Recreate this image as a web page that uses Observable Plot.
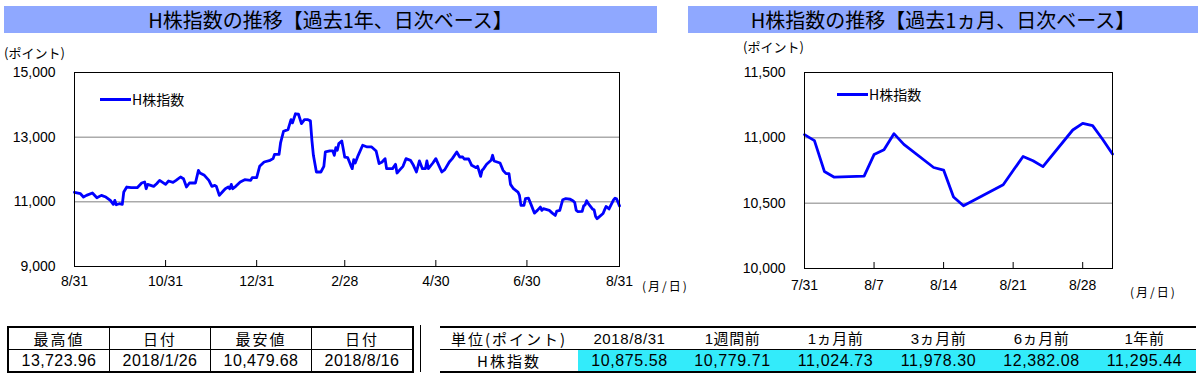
<!DOCTYPE html>
<html><head><meta charset="utf-8">
<script src="https://cdn.jsdelivr.net/npm/d3@7"></script>
<script src="https://cdn.jsdelivr.net/npm/@observablehq/plot@0.6"></script>
<style>
body{margin:0;background:#fff;font-family:"Noto Sans CJK JP",sans-serif;color:#000;}
#root{position:relative;width:1203px;height:378px;overflow:hidden;}
.title{position:absolute;background:#8FA8FF;text-align:center;font-size:20px;line-height:27px;height:27px;white-space:nowrap;}
.lab{position:absolute;font-size:13px;line-height:14px;white-space:nowrap;}
.plot{position:absolute;}
.leg{position:absolute;font-size:14px;line-height:16px;white-space:nowrap;display:flex;align-items:center;}
.leg span.l{display:inline-block;width:31px;height:3px;background:#0000FF;margin-right:1px;}
table{border-collapse:collapse;position:absolute;}
#t1{left:7px;top:326px;border:2px solid #000;}
#t1 td{border:1px solid #000;width:100px;height:21px;text-align:center;padding:0;font-size:15px;line-height:21px;letter-spacing:2px;}
#t1 td.n{font-family:"Liberation Sans",Arial,sans-serif;font-size:16px;letter-spacing:0.4px;}
#t2{left:440px;top:326px;border-top:2px solid #000;border-bottom:2px solid #000;}
#t2 td{height:21px;padding:0;text-align:center;font-size:15px;line-height:21px;width:103px;}
#t2 tr.h td{border-bottom:1px solid #000;}
#t2 td.first{width:138px;letter-spacing:2px;}
#t2 td.c{background:#33EBFA;font-family:"Liberation Sans",Arial,sans-serif;font-size:16px;letter-spacing:0.6px;}
#t2 td.n{font-family:"Liberation Sans","Noto Sans CJK JP",sans-serif;font-size:15px;letter-spacing:0.6px;}
#vl{position:absolute;left:420px;top:325px;width:1px;height:47px;background:#000;}
</style></head>
<body><div id="root"></div>
<script>
// ---- data ----
const yearDates = ["2017-08-31","2017-09-04","2017-09-06","2017-09-08","2017-09-12","2017-09-15","2017-09-18","2017-09-21","2017-09-24","2017-09-26","2017-09-27","2017-09-28","2017-09-30","2017-10-02","2017-10-03","2017-10-05","2017-10-08","2017-10-12","2017-10-15","2017-10-17","2017-10-18","2017-10-19","2017-10-23","2017-10-25","2017-10-27","2017-10-31","2017-11-02","2017-11-05","2017-11-07","2017-11-10","2017-11-12","2017-11-14","2017-11-16","2017-11-20","2017-11-22","2017-11-23","2017-11-26","2017-11-29","2017-12-01","2017-12-03","2017-12-04","2017-12-06","2017-12-08","2017-12-10","2017-12-12","2017-12-13","2017-12-14","2017-12-15","2017-12-17","2017-12-20","2017-12-23","2017-12-27","2017-12-28","2017-12-31","2018-01-02","2018-01-05","2018-01-09","2018-01-11","2018-01-12","2018-01-15","2018-01-16","2018-01-18","2018-01-21","2018-01-23","2018-01-24","2018-01-26","2018-01-28","2018-01-30","2018-02-01","2018-02-03","2018-02-05","2018-02-06","2018-02-07","2018-02-09","2018-02-12","2018-02-14","2018-02-15","2018-02-18","2018-02-20","2018-02-21","2018-02-22","2018-02-23","2018-02-24","2018-02-26","2018-02-28","2018-03-02","2018-03-04","2018-03-05","2018-03-06","2018-03-07","2018-03-09","2018-03-12","2018-03-15","2018-03-18","2018-03-21","2018-03-23","2018-03-25","2018-03-27","2018-03-28","2018-04-01","2018-04-03","2018-04-04","2018-04-06","2018-04-08","2018-04-10","2018-04-13","2018-04-15","2018-04-17","2018-04-19","2018-04-21","2018-04-23","2018-04-24","2018-04-25","2018-04-28","2018-04-30","2018-05-02","2018-05-04","2018-05-06","2018-05-09","2018-05-11","2018-05-14","2018-05-16","2018-05-18","2018-05-19","2018-05-22","2018-05-24","2018-05-27","2018-05-28","2018-05-30","2018-05-31","2018-06-01","2018-06-03","2018-06-06","2018-06-07","2018-06-08","2018-06-10","2018-06-12","2018-06-14","2018-06-16","2018-06-18","2018-06-19","2018-06-21","2018-06-24","2018-06-25","2018-06-26","2018-06-28","2018-06-29","2018-07-01","2018-07-03","2018-07-05","2018-07-07","2018-07-09","2018-07-10","2018-07-11","2018-07-15","2018-07-17","2018-07-19","2018-07-20","2018-07-22","2018-07-24","2018-07-26","2018-07-29"];
const yearValues = [11295.44,11251,11148,11200,11272,11127,11200,11148,11045,10921,11045,10911,10942,10921,11303,11458,11437,11437,11582,11613,11406,11540,11479,11561,11664,11540,11644,11602,11664,11768,11716,11458,11582,11582,11974,11892,11819,11664,11479,11509,11479,11200,11303,11406,11458,11406,11540,11406,11479,11613,11685,11664,11747,11747,12098,12232,12284,12336,12470,12470,12821,13183,13234,13544,13441,13723.96,13709,13420,13544,13544,13503,12904,12439,11923,11923,12098,12542,12573,12573,12439,12676,12594,12800,12883,12382.08,12367,12129,12026,12305,12201,12439,12749,12697,12697,12573,12181,12232,12336,12026,12026,12160,11892,11995,12098,12336,12284,12129,11923,12264,12026,12026,12264,12026,12201,12336,12129,11923,11995,12232,12336,12542,12387,12387,12325,12325,12129,12057,12098,11788,11978.30,12026,12160,12284,12439,12264,12232,12201,11974,11871,11871,11540,11406,11303,11200,10890,10890,11097,11117,10890,10652,10735,10838,10735,10787,10735,10652,10580,10714,10735,11065,11097,11080];
const monthDates = ["2018-07-31","2018-08-01","2018-08-02","2018-08-03","2018-08-06","2018-08-07","2018-08-08","2018-08-09","2018-08-10","2018-08-13","2018-08-14","2018-08-15","2018-08-16","2018-08-17","2018-08-20","2018-08-21","2018-08-22","2018-08-23","2018-08-24","2018-08-27","2018-08-28","2018-08-29","2018-08-30","2018-08-31"];
const monthValues = [11024.73,10979,10743,10699,10707,10872,10908,11032,10950,10773,10753,10547,10479.68,10520,10641,10750,10857,10824,10779.71,11060,11111,11093,10989,10875.58];
const seriesName = "H株指数";
const yearXTicks = ["2017-08-31","2017-10-31","2017-12-31","2018-02-28","2018-04-30","2018-06-30","2018-08-31"];
const yearYTicks = [9000,11000,13000,15000];
const yearGrid = [11000,13000];
const monthXTicks = ["2018-07-31","2018-08-07","2018-08-14","2018-08-21","2018-08-28"];
const monthYTicks = [10000,10500,11000,11500];
const monthGrid = [10500,11000];
const titleYear = "H株指数の推移【過去1年、日次ベース】";
const titleMonth = "H株指数の推移【過去1ヵ月、日次ベース】";
const statHeaders = ["最高値","日付","最安値","日付"];
const statValues = ["13,723.96","2018/1/26","10,479.68","2018/8/16"];
const cmpHeaders = ["単位(ポイント)","2018/8/31","1週間前","1ヵ月前","3ヵ月前","6ヵ月前","1年前"];
const cmpValues = [10875.58,10779.71,11024.73,11978.30,12382.08,11295.44];

// ---- build ----
const root = document.getElementById("root");
const n = Math.min(yearDates.length, yearValues.length);
const yearData = yearDates.slice(0,n).map((d,i)=>({date:new Date(d), value:yearValues[i]}))
  .concat(monthDates.map((d,i)=>({date:new Date(d), value:monthValues[i]})));
const monthData = monthDates.map((d,i)=>({date:new Date(d), value:monthValues[i]}));
const md = d => `${d.getUTCMonth()+1}/${d.getUTCDate()}`;
const fmt = d3.format(",");

function add(html, cls, style){const e=document.createElement("div");e.className=cls;e.style.cssText=style;e.innerHTML=html;root.appendChild(e);return e;}

add(titleYear,"title","left:4px;top:6px;width:653px;");
add(titleMonth,"title","left:688px;top:6px;width:510px;");

function chart(data, xTicks, yTicks, grid, opts){
  const xt = xTicks.map(d=>new Date(d));
  const H = 260, mt = 32;
  const inner = H - mt - opts.mb;
  return Plot.plot({
    width: opts.width, height: H,
    marginLeft: opts.ml, marginRight: opts.mr, marginTop: mt, marginBottom: opts.mb,
    style:{fontFamily:"'Liberation Sans',Arial,sans-serif", fontSize:"14px", color:"#000", background:"transparent", overflow:"visible"},
    x:{type:"utc", domain:[xt[0], opts.xEnd]},
    y:{domain:[yTicks[0], yTicks[yTicks.length-1]]},
    marks:[
      Plot.ruleY(grid,{stroke:"#808080",strokeWidth:1}),
      Plot.tickX(xt.filter(d=>d>xt[0] && d<opts.xEnd),{x:d=>d, stroke:"#000", strokeWidth:1, insetTop:inner-6}),
      Plot.line(data,{x:"date",y:"value",stroke:"#0000FF",strokeWidth:2.8}),
      Plot.frame({stroke:"#000",strokeWidth:1}),
      Plot.axisY({ticks:yTicks, tickSize:0, tickPadding:19, tickFormat:fmt, label:null}),
      Plot.axisX({ticks:xt, tickSize:0, tickPadding:opts.tp, tickFormat:md, label:null})
    ]
  });
}
const p1 = chart(yearData, yearXTicks, yearYTicks, yearGrid, {width:690, ml:74, mr:71, mb:34, tp:10, xEnd:new Date(yearXTicks[yearXTicks.length-1])});
const w1 = document.createElement("div"); w1.className="plot"; w1.style.cssText="left:0;top:40px;"; w1.appendChild(p1); root.appendChild(w1);
const p2 = chart(monthData, monthXTicks, monthYTicks, monthGrid, {width:513, ml:114, mr:91, mb:32, tp:12, xEnd:new Date(monthDates[monthDates.length-1])});
const w2 = document.createElement("div"); w2.className="plot"; w2.style.cssText="left:690px;top:40px;"; w2.appendChild(p2); root.appendChild(w2);

add("(ポイント)","lab","left:4px;top:46px;");
add("(ポイント)","lab","left:743px;top:40px;");
add("(月/日)","lab","left:642px;top:279px;font-size:12px;letter-spacing:2px;");
add("(月/日)","lab","left:1130px;top:285px;font-size:12px;letter-spacing:2px;");
add(`<span class="l"></span>${seriesName}`,"leg","left:100px;top:91px;");
add(`<span class="l"></span>${seriesName}`,"leg","left:837px;top:86px;");

// tables
const t1 = document.createElement("table"); t1.id="t1";
t1.innerHTML = `<tr>${statHeaders.map(h=>`<td>${h}</td>`).join("")}</tr><tr>${statValues.map(v=>`<td class="n">${v}</td>`).join("")}</tr>`;
root.appendChild(t1);
const t2 = document.createElement("table"); t2.id="t2";
const f2 = d3.format(",.2f");
t2.innerHTML = `<tr class="h">${cmpHeaders.map((h,i)=>`<td class="${i===0?'first':'n'}">${h}</td>`).join("")}</tr><tr><td class="first">${seriesName}</td>${cmpValues.map(v=>`<td class="c">${f2(v)}</td>`).join("")}</tr>`;
root.appendChild(t2);
const vl=document.createElement("div"); vl.id="vl"; root.appendChild(vl);
</script>
</body></html>
